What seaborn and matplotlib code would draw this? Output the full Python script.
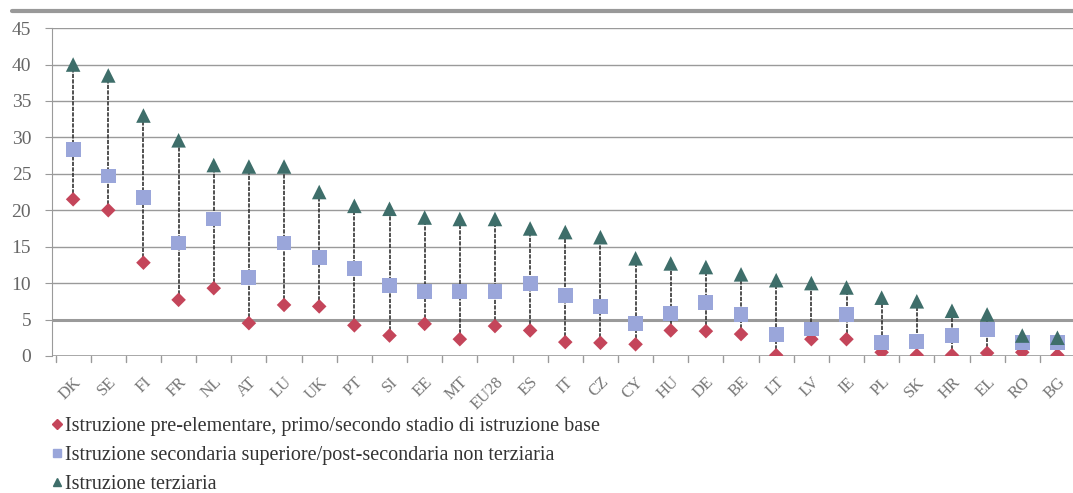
import pandas as pd
import matplotlib.pyplot as plt
import seaborn as sns
from matplotlib.lines import Line2D

# values (%)
countries = ['DK', 'SE', 'FI', 'FR', 'NL', 'AT', 'LU', 'UK', 'PT', 'SI', 'EE', 'MT', 'EU28', 'ES', 'IT',
             'CZ', 'CY', 'HU', 'DE', 'BE', 'LT', 'LV', 'IE', 'PL', 'SK', 'HR', 'EL', 'RO', 'BG']
base = [21.5, 20.0, 12.8, 7.7, 9.3, 4.5, 7.0, 6.8, 4.2, 2.8, 4.4, 2.3, 4.1, 3.5, 1.9,
        1.8, 1.6, 3.5, 3.4, 3.0, 0.1, 2.3, 2.3, 0.5, 0.1, 0.1, 0.4, 0.5, 0.1]
secondaria = [28.3, 24.7, 21.7, 15.5, 18.8, 10.8, 15.5, 13.5, 12.0, 9.7, 8.8, 8.8, 8.8, 10.0, 8.3,
              6.8, 4.5, 5.8, 7.3, 5.7, 3.0, 3.7, 5.7, 1.8, 2.0, 2.8, 3.6, 1.8, 1.8]
terziaria = [40.0, 38.5, 33.0, 29.6, 26.2, 26.0, 26.0, 22.5, 20.6, 20.2, 19.0, 18.8, 18.8, 17.5, 17.0,
             16.3, 13.4, 12.7, 12.2, 11.2, 10.4, 10.0, 9.4, 8.0, 7.5, 6.2, 5.7, 2.8, 2.5]
series_names = ['Istruzione pre-elementare, primo/secondo stadio di istruzione base',
                'Istruzione secondaria superiore/post-secondaria non terziaria',
                'Istruzione terziaria']
y_ticks = [0, 5, 10, 15, 20, 25, 30, 35, 40, 45]

df = pd.DataFrame({'paese': countries, series_names[0]: base,
                   series_names[1]: secondaria, series_names[2]: terziaria})
df['x'] = range(len(df))
long_df = df.melt(id_vars=['paese', 'x'], var_name='livello', value_name='valore')

colors = {series_names[0]: '#C4455A', series_names[1]: '#9AA6DA', series_names[2]: '#3E6E6A'}
markers = {series_names[0]: 'D', series_names[1]: 's', series_names[2]: '^'}
sizes = {series_names[0]: 55, series_names[1]: 115, series_names[2]: 110}

sns.set_style('white')
plt.rcParams['font.family'] = ['Liberation Serif', 'DejaVu Serif']

fig = plt.figure(figsize=(10.73, 4.93), dpi=100)
ax = fig.add_axes([0.0485, 0.278, 0.955, 0.665])

# high-low lines
ax.vlines(df['x'], df[series_names].min(axis=1), df[series_names].max(axis=1),
          colors='#333333', linewidth=1.2, linestyles=(0, (2.5, 0.8)), zorder=2)

for name in series_names:
    sub = long_df[long_df['livello'] == name]
    sns.scatterplot(data=sub, x='x', y='valore', marker=markers[name], color=colors[name],
                    s=sizes[name], edgecolor='none', ax=ax, zorder=3, legend=False)

ax.set_xlim(-0.6, len(countries) - 0.45)
ax.set_ylim(0, 45)
ax.set_yticks(y_ticks)
ax.set_yticklabels([str(t) for t in y_ticks], color='#666666', fontsize=14)
ax.set_xticks(range(len(countries)))
ax.set_xticklabels(countries, rotation=45, ha='right', va='top', color='#777777', fontsize=12,
                   rotation_mode='anchor')
ax.set_xlabel('')
ax.set_ylabel('')
for t in y_ticks[1:]:
    ax.axhline(t, color='#9a9a9a', linewidth=2.2 if t == 5 else 1.0, zorder=1)
ax.axhline(0, color='#9a9a9a', linewidth=1.2, zorder=1)
for s in ['top', 'right', 'bottom']:
    ax.spines[s].set_visible(False)
ax.spines['left'].set_color('#9a9a9a')
ax.tick_params(axis='y', length=5, color='#9a9a9a', left=True, pad=10)
ax.tick_params(axis='x', length=0, pad=13)
for i in range(len(countries) + 1):
    ax.plot([i - 0.5, i - 0.5], [0, -0.8], color='#9a9a9a', linewidth=1, clip_on=False)

# top border line
fig.add_artist(Line2D([0.011, 1.0], [0.978, 0.978], color='#999999', linewidth=3))

handles = [Line2D([], [], linestyle='none', marker=markers[n], color=colors[n],
                  markersize=5 if n == series_names[0] else 6) for n in series_names]
fig.legend(handles, series_names, loc='upper left', bbox_to_anchor=(0.047, 0.155), frameon=False,
           fontsize=14.5, handletextpad=0.0, handlelength=0.7, labelspacing=0.5,
           borderaxespad=0, borderpad=0, labelcolor='#333333')

fig.savefig('out.png', dpi=100)
